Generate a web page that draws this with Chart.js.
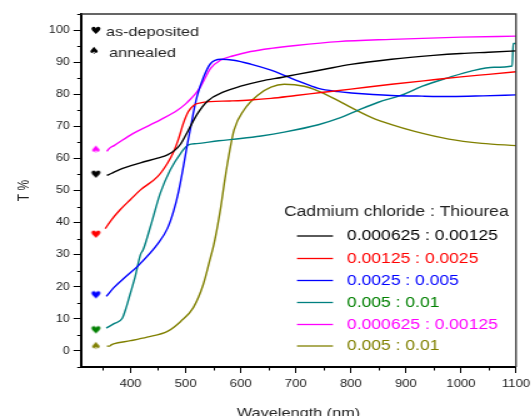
<!DOCTYPE html>
<html><head><meta charset="utf-8">
<script src="https://cdn.jsdelivr.net/npm/chart.js@4/dist/chart.umd.min.js"></script>
<style>
html,body{margin:0;padding:0;background:#fff;overflow:hidden}
#wrap{position:absolute;left:0;top:0;width:426px;height:416px;transform:scaleX(1.25);transform-origin:0 0}
#c{display:block;width:426px;height:416px}
</style></head><body>
<div id="wrap"><canvas id="c" width="426" height="416"></canvas></div>
<script>
// ---- data ----
const legendTitle = 'Cadmium chloride : Thiourea';
const seriesLabels = ['0.000625 : 0.00125','0.00125 : 0.0025','0.0025 : 0.005','0.005 : 0.01','0.000625 : 0.00125','0.005 : 0.01'];
const lineColors = ['#000000','#ff0000','#0000ff','#008080','#ff00ff','#808000'];
const textColors = ['#000000','#ff0000','#0000ff','#008000','#ff00ff','#808000'];
const markerColors = ['#000000','#ff0000','#0000ff','#008000','#ff00ff','#808000'];
const markerGlyphs = ['\u2665','\u2665','\u2665','\u2665','\u2660','\u2660'];
const markerWavelength = 337;
const markerValues = [54.9, 36.2, 17.3, 6.4, 62.7, 1.5];
const stateLabels = ['as-deposited','annealed'];
const stateGlyphs = ['\u2665','\u2660'];

const wlBlack = [357,365,380,418,449,467,480,491,505,521,540,569,600,637,676,700,750,800,874,950,1000,1050,1100];
const tBlack  = [54.7,55.3,56.5,58.6,60.1,61.1,62.5,64.5,68.8,73.8,77.9,80.7,82.5,84.1,85.3,86.1,87.7,89.3,90.9,92.1,92.7,93.1,93.5];

const wlRed = [354,365,381,400,418,449,467,478,487,496,505,515,527,545,580,618,655,700,750,800,874,950,1000,1050,1100];
const tRed  = [38.1,40.8,44,47.2,50.2,54.3,58.5,62.0,66.0,71.0,74.6,76.6,77.3,77.7,77.9,78.2,78.7,79.6,80.6,81.6,83.1,84.5,85.4,86.2,87.0];

const wlBlue = [356,370,387,414,450,467,478,487,496,503,509,515,521,533,545,564,587,618,655,679,706,741,777,801,840,874,930,983,1040,1100];
const tBlue  = [17.0,19.8,22.5,26.6,33.5,38.2,43.5,49.5,57.5,64.3,69.5,75,79.5,85.5,89.5,90.9,90.6,89.4,87.5,85.9,84.0,81.8,80.8,80.4,79.9,79.6,79.4,79.3,79.5,79.8];

const wlTeal = [356,370,385,392,399,408,418,423,436,454,472,491,505,520,560,600,637,679,741,780,813,850,892,930,974,1020,1060,1093,1095,1100];
const tTeal  = [7.1,8.5,10.2,13.5,17.6,22.9,30,31.6,38.7,49.2,56.4,61.6,64.2,64.6,65.5,66.2,67,68.2,70.5,72.6,75,77.5,79.7,82.5,85,87.3,88.4,88.8,95.8,95.8];

const wlMagenta = [357,362,370,405,454,485,500,509,518,527,545,564,587,618,655,700,777,874,1000,1100];
const tMagenta  = [62.2,63.2,64,67.8,72,75,77,78.5,80.2,82.3,88,90.7,92,93.3,94.3,95.2,96.4,97.1,97.8,98.1];

const wlOlive = [357,362,365,369,400,430,467,491,514,532,545,551,558,564,570,576,588,606,631,655,679,715,741,777,801,837,874,916,978,1038,1100];
const tOlive  = [1.5,1.5,1.9,2.2,3.2,4.3,6.1,9.2,13.5,20.7,29,33,39,45,52,58.5,68.9,75.1,79.7,82.2,83.1,82.5,81.0,78.0,75.8,72.8,70.5,68.4,66.0,64.7,64.0];

const xMin = 310, xMax = 1100, xStep = 50, xLabelStep = 100;
const yMin = -5, yMax = 105, yStep = 5, yLabelStep = 10;

const seriesX = [wlBlack, wlRed, wlBlue, wlTeal, wlMagenta, wlOlive];
const seriesY = [tBlack, tRed, tBlue, tTeal, tMagenta, tOlive];

// ---- build ----
const FONT = "'Liberation Sans', Arial, sans-serif";
Chart.defaults.font.family = FONT;
Chart.defaults.color = '#222';

function glyphCanvas(ch, color){
  const c = document.createElement('canvas');
  c.width = 10; c.height = 10;
  const g = c.getContext('2d');
  g.fillStyle = color; g.font = "bold 10px 'DejaVu Sans'";
  g.textAlign = 'center'; g.textBaseline = 'middle';
  g.fillText(ch, 5, 5.5);
  return c;
}

const datasets = seriesX.map((xs, i) => ({
  label: seriesLabels[i],
  data: xs.map((x, k) => ({x, y: seriesY[i][k]})),
  borderColor: lineColors[i], borderWidth: 1.4, pointRadius: 0,
  cubicInterpolationMode: 'monotone', fill: false
}));
markerValues.forEach((v, i) => datasets.push({
  label: 'marker' + i,
  data: [{x: markerWavelength, y: v}],
  showLine: false, pointStyle: glyphCanvas(markerGlyphs[i], markerColors[i]),
  pointRadius: 5, borderColor: markerColors[i], backgroundColor: markerColors[i]
}));

const decor = {
  id: 'decor',
  afterDraw(chart){
    const {ctx, chartArea: a, scales: {x, y}} = chart;
    ctx.save();
    ctx.strokeStyle = '#000'; ctx.lineWidth = 1;
    x.ticks.forEach(t => { if (t.value % xLabelStep !== 0) { const p = Math.round(x.getPixelForValue(t.value)) + 0.5; ctx.beginPath(); ctx.moveTo(p, a.bottom); ctx.lineTo(p, a.bottom + 3.5); ctx.stroke(); }});
    y.ticks.forEach(t => { if (t.value % yLabelStep !== 0) { const p = Math.round(y.getPixelForValue(t.value)) + 0.5; ctx.beginPath(); ctx.moveTo(a.left, p); ctx.lineTo(a.left - 3, p); ctx.stroke(); }});
    ctx.lineWidth = 1.3; ctx.strokeStyle = '#333';
    ctx.beginPath(); ctx.moveTo(a.left, a.top); ctx.lineTo(a.right, a.top); ctx.lineTo(a.right, a.bottom); ctx.stroke();
    const sl = [[76.8, 31, 84.8, 32], [75.2, 51, 87.2, 53]];
    stateLabels.forEach((s, i) => {
      ctx.fillStyle = '#000';
      ctx.font = "bold 10px 'DejaVu Sans'"; ctx.textAlign = 'center'; ctx.textBaseline = 'middle';
      ctx.fillText(stateGlyphs[i], sl[i][0], sl[i][1]);
      ctx.font = '13px ' + FONT; ctx.textAlign = 'left';
      ctx.fillStyle = '#222';
      ctx.fillText(s, sl[i][2], sl[i][3]);
    });
    ctx.font = '14px ' + FONT; ctx.textAlign = 'left'; ctx.textBaseline = 'middle';
    ctx.fillStyle = '#222';
    ctx.fillText(legendTitle, 227.2, 212);
    const rows = [236, 258.5, 280.5, 302.5, 324.5, 346];
    seriesLabels.forEach((s, i) => {
      ctx.strokeStyle = lineColors[i]; ctx.lineWidth = 1.3;
      ctx.beginPath(); ctx.moveTo(237.6, rows[i]); ctx.lineTo(266.4, rows[i]); ctx.stroke();
      ctx.fillStyle = textColors[i];
      ctx.fillText(s, 277.6, rows[i] + 0.5);
    });
    ctx.restore();
  }
};

new Chart(document.getElementById('c'), {
  type: 'line',
  data: {datasets},
  options: {
    responsive: false, maintainAspectRatio: false, animation: false,
    devicePixelRatio: 1,
    layout: {padding: {left: 0, right: 13.2, top: 14, bottom: 0}},
    plugins: {legend: {display: false}, tooltip: {enabled: false}},
    scales: {
      x: {
        type: 'linear', min: xMin, max: xMax,
        afterFit(s){ s.height = 49; s.paddingLeft = 0; s.paddingRight = 0; },
        ticks: {stepSize: xStep, includeBounds: false, autoSkip: false, maxRotation: 0, padding: 5,
          font: {size: 10.5}, color: '#222',
          callback: v => (v % xLabelStep === 0 ? String(v) : '')},
        grid: {drawOnChartArea: false, drawTicks: true, tickLength: 6,
          tickColor: c => (c.tick && c.tick.value % xLabelStep === 0 ? '#000' : 'rgba(0,0,0,0)'), tickWidth: 1},
        border: {display: true, color: '#000', width: 2},
        title: {display: true, text: 'Wavelength (nm)', font: {size: 13}, color: '#222', padding: {top: 0, bottom: -5}}
      },
      y: {
        type: 'linear', min: yMin, max: yMax,
        afterFit(s){ s.width = 64.8; s.paddingTop = 0; s.paddingBottom = 0; },
        ticks: {stepSize: yStep, includeBounds: false, autoSkip: false, padding: 3,
          font: {size: 10}, color: '#222',
          callback: v => (v % yLabelStep === 0 ? String(v) : '')},
        grid: {drawOnChartArea: false, drawTicks: true, tickLength: 6,
          tickColor: c => (c.tick && c.tick.value % yLabelStep === 0 ? '#000' : 'rgba(0,0,0,0)'), tickWidth: 1},
        border: {display: true, color: '#000', width: 2},
        title: {display: true, text: 'T %', font: {size: 12}, color: '#222', padding: {top: 12, bottom: 0}}
      }
    }
  },
  plugins: [decor]
});
</script>
</body></html>
